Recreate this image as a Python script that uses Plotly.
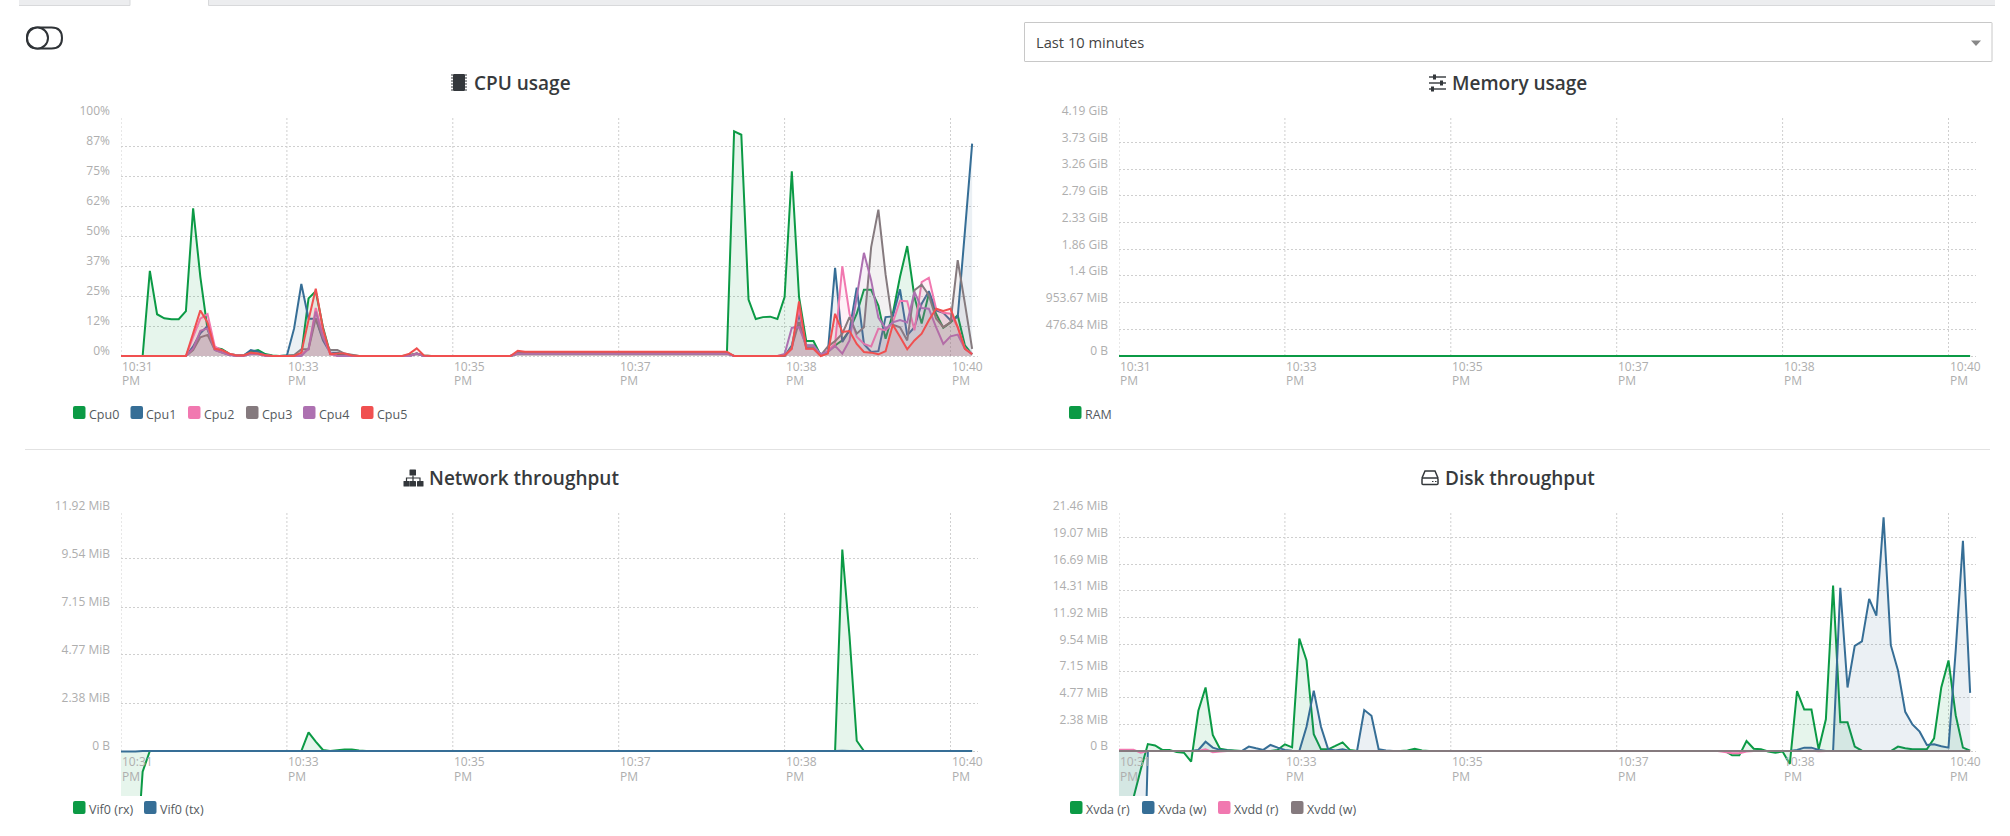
import plotly.graph_objects as go

# Samples are 5 s apart; the window holds 119 of them.
STEP_SECONDS = 5
SAMPLES = 119
seconds = [i * STEP_SECONDS for i in range(SAMPLES)]

tick_seconds = [0, 115, 230, 345, 460, 575]
tick_times = ["10:31", "10:33", "10:35", "10:37", "10:38", "10:40"]


def series(points):
    """Expand {sample index: value} readings into a full series, zero elsewhere."""
    values = [0.0] * SAMPLES
    for key, value in points.items():
        values[key] = value
    return values


cpu0 = series({4: 35.5, 5: 17.4, 6: 15.7, 7: 15.3, 8: 15.3, 9: 18.7, 10: 61.5, 11: 33, 12: 11, 13: 3.5, 14: 2.8, 15: 1, 16: .3, 17: .3,
               18: 1.8, 19: 2.5, 20: .8, 21: .2, 23: .2, 24: .2, 25: .8, 26: 24, 27: 27, 28: 12, 29: 1, 30: .5, 31: .3, 32: .2,
               40: .4, 41: 1, 42: .2, 55: 1, 56: 1, 57: 1, 58: 1, 59: 1, 60: 1, 61: 1, 62: 1, 63: 1, 64: 1, 65: 1, 66: 1, 67: 1, 68: 1,
               69: 1, 70: 1, 71: 1, 72: 1, 73: 1, 74: 1, 75: 1, 76: 1, 77: 1, 78: 1, 79: 1, 80: 1, 81: 1, 82: 1, 83: 1, 84: 1,
               85: 93.6, 86: 92.2, 87: 23.5, 88: 15.4, 89: 16.2, 90: 16.4, 91: 15.4, 92: 24.6, 93: 77, 94: 24.6, 95: 6.2, 96: 6.2,
               97: .3, 98: 1.7, 99: 4.4, 100: 6.5, 101: 10.7, 102: 17.6, 103: 27.6, 104: 27.6, 105: 21, 106: 7.2, 107: 17.6, 108: 33,
               109: 45.8, 110: 24.6, 111: 13.5, 112: 26, 113: 17.6, 114: 11.8, 115: 14, 116: 17, 117: 4.4, 118: .7})
cpu1 = series({10: 4, 11: 9.5, 12: 12.5, 13: 3, 14: 1.8, 15: .5, 16: .2, 17: .2, 18: 2.5, 19: 1.8, 20: .4, 23: .2, 24: 11.5, 25: 30,
               26: 15.5, 27: 15.5, 28: 6.5, 29: 1.4, 30: 1.4, 31: .5, 41: 1, 55: 1.1, 56: 1.1, 57: 1.1, 58: 1.1, 59: 1.1, 60: 1.1,
               61: 1.1, 62: 1.1, 63: 1.1, 64: 1.1, 65: 1.1, 66: 1.1, 67: 1.1, 68: 1.1, 69: 1.1, 70: 1.1, 71: 1.1, 72: 1.1, 73: 1.1,
               74: 1.1, 75: 1.1, 76: 1.1, 77: 1.1, 78: 1.1, 79: 1.1, 80: 1.1, 81: 1.1, 82: 1.1, 83: 1.1, 84: 1.1,
               93: 4.4, 94: 17.6, 95: 4.4, 96: 4.4, 97: .7, 98: 1.7, 99: 36.7, 100: 5.8, 101: 10.7, 102: 28.5, 103: 5, 104: 1.7, 105: 2,
               106: 16.2, 107: 16.5, 108: 27.8, 109: 8.6, 110: 12, 111: 21.8, 112: 27, 113: 19, 114: 18, 115: 14.9, 116: 16.2, 117: 52, 118: 88.5})
cpu2 = series({10: 8, 11: 15.6, 12: 17.5, 13: 4, 14: 2.2, 15: 1, 16: .3, 17: .3, 18: 1, 19: .8, 20: .3, 24: .2, 25: 1, 26: 2.8, 27: 20, 28: 9, 29: .8,
               41: 1, 55: 1.5, 56: 1.5, 57: 1.5, 58: 1.5, 59: 1.5, 60: 1.5, 61: 1.5, 62: 1.5, 63: 1.5, 64: 1.5, 65: 1.5, 66: 1.5, 67: 1.5,
               68: 1.5, 69: 1.5, 70: 1.5, 71: 1.5, 72: 1.5, 73: 1.5, 74: 1.5, 75: 1.5, 76: 1.5, 77: 1.5, 78: 1.5, 79: 1.5, 80: 1.5, 81: 1.5,
               82: 1.5, 83: 1.5, 84: 1.5,
               93: 3, 94: 20, 95: 3, 96: 3, 97: .3, 98: 2.4, 99: 5, 100: 37.4, 101: 17.6, 102: 8, 103: 5, 104: 4, 105: 11.4, 106: 10.7, 107: 14,
               108: 23, 109: 22.8, 110: 10.7, 111: 30.8, 112: 32.6, 113: 19.7, 114: 18, 115: 17.6, 116: 12, 117: 3, 118: 1})
cpu3 = series({10: 2.5, 11: 7.8, 12: 8.8, 13: 2.5, 14: 1.4, 15: .5, 16: .2, 17: .2, 18: 1, 19: 1, 20: .3, 24: .4, 25: 2.8, 26: 2.8, 27: 15.7, 28: 7.4,
               29: 2.5, 30: 2.5, 31: 1, 32: .5, 41: 1, 55: 1.2, 56: 1.2, 57: 1.2, 58: 1.2, 59: 1.2, 60: 1.2, 61: 1.2, 62: 1.2, 63: 1.2, 64: 1.2,
               65: 1.2, 66: 1.2, 67: 1.2, 68: 1.2, 69: 1.2, 70: 1.2, 71: 1.2, 72: 1.2, 73: 1.2, 74: 1.2, 75: 1.2, 76: 1.2, 77: 1.2, 78: 1.2,
               79: 1.2, 80: 1.2, 81: 1.2, 82: 1.2, 83: 1.2, 84: 1.2,
               93: 3.7, 94: 14.2, 95: 3.5, 96: 3.5, 97: .3, 98: 4, 99: 6.2, 100: 9.3, 101: 16.2, 102: 9.3, 103: 12, 104: 45.4, 105: 61, 106: 34,
               107: 13, 108: 12, 109: 6.5, 110: 27.4, 111: 29.7, 112: 25.3, 113: 15.6, 114: 12, 115: 14, 116: 39.9, 117: 21.8, 118: 3})
cpu4 = series({10: 3, 11: 10.5, 12: 11.5, 13: 2.5, 14: 1.4, 15: .4, 18: .8, 19: .8, 26: 3, 27: 18.5, 28: 8, 29: 1.4, 41: 1, 55: .9, 56: .9, 57: .9, 58: .9,
               59: .9, 60: .9, 61: .9, 62: .9, 63: .9, 64: .9, 65: .9, 66: .9, 67: .9, 68: .9, 69: .9, 70: .9, 71: .9, 72: .9, 73: .9, 74: .9,
               75: .9, 76: .9, 77: .9, 78: .9, 79: .9, 80: .9, 81: .9, 82: .9, 83: .9, 84: .9,
               92: .8, 93: 11.8, 94: 12, 95: 4.4, 96: 4.4, 97: .7, 98: 1.7, 99: 4.2, 100: 1, 101: 6.5, 102: 24.6, 103: 43, 104: 31.5, 105: 16, 106: 11.4,
               107: 14, 108: 15, 109: 14, 110: 26.7, 111: 20, 112: 19.7, 113: 12, 114: 5, 115: 8.2, 116: 8.9, 117: 3, 118: .7})
cpu5 = series({10: 9.5, 11: 19, 12: 14, 13: 3, 14: 2.5, 15: 1, 16: .2, 17: .2, 18: 1.4, 19: 1, 20: .3, 25: 1.4, 26: 15, 27: 28, 28: 11.5, 29: .8, 30: 1, 31: 1, 32: .2,
               40: 1, 41: 3.2, 42: .2, 55: 2.2, 56: 1.8, 57: 1.8, 58: 1.8, 59: 1.8, 60: 1.8, 61: 1.8, 62: 1.8, 63: 1.8, 64: 1.8, 65: 1.8, 66: 1.8, 67: 1.8,
               68: 1.8, 69: 1.8, 70: 1.8, 71: 1.8, 72: 1.8, 73: 1.8, 74: 1.8, 75: 1.8, 76: 1.8, 77: 1.8, 78: 1.8, 79: 1.8, 80: 1.8, 81: 1.8, 82: 1.8,
               83: 1.8, 84: 1.8,
               92: .2, 93: 3, 94: 22.8, 95: 3, 96: 3, 98: 1, 99: 17.6, 100: 10, 101: 10.4, 102: 5, 103: 1.7, 104: 1.4, 105: .7, 106: 2, 107: 13, 108: 8,
               109: 2.8, 110: 6.5, 111: 9.3, 112: 14.9, 113: 19.7, 114: 18.8, 115: 19.7, 116: 12, 117: 3, 118: .7})

ram_gib = series({})

vif_rx = series({0: -6.3, 1: -6.3, 2: -6.3, 3: -1.03, 25: 0, 26: .93, 27: .47, 28: .05, 30: .04, 31: .08, 32: .08, 33: .03,
                 100: 10.0, 101: 5.7, 102: .51})
vif_tx = series({0: -.02, 1: -.02, 2: -.02, 100: .01})

xvda_r = series({0: -4.2, 1: -4.2, 2: -4.2, 3: -1.7, 4: .62, 5: .5, 6: .1, 7: .1, 8: -.1, 9: -.15, 10: -.95, 11: 3.6, 12: 5.68, 13: 1.43, 14: .2, 15: .1, 16: .05,
                 22: .1, 23: .6, 24: .33, 25: 10.06, 26: 8.1, 27: 1.5, 28: .15, 29: .15, 30: .45, 31: .77, 32: .1, 40: .05, 41: .2, 42: .05,
                 85: -.39, 86: -.39, 87: .89, 88: .2, 89: .15, 90: -.05, 91: -.15, 92: -.05, 93: -1.16, 94: 5.36, 95: 3.7, 96: 3.7, 97: .15, 98: 2.83, 99: 14.8,
                 100: 2.56, 101: 2.56, 102: .39, 103: .03, 108: .39, 109: .24, 110: .15, 111: .15, 112: .15, 113: 1.13, 114: 5.68, 115: 8.1, 116: 3.2, 117: .3, 118: .03})
xvda_w = series({0: -24.5, 1: -24.5, 2: -24.5, 3: -24.5, 11: .09, 12: .83, 13: .3, 14: .1, 15: .05, 18: .4, 19: .24, 20: .1, 21: .54, 22: .3, 23: .1, 24: .03,
                 26: 2.17, 27: 5.4, 28: 2.17, 29: .15, 30: .05, 31: .15, 34: 3.66, 35: 3.15, 36: .15, 37: .05,
                 94: .09, 95: .3, 96: .3, 97: .09, 100: 14.6, 101: 5.68, 102: 9.4, 103: 9.8, 104: 13.6, 105: 12.1, 106: 20.9, 107: 9.46, 108: 7.2, 109: 3.5,
                 110: 2.38, 111: 1.73, 112: .54, 113: .6, 114: .42, 115: .3, 116: 9.0, 117: 18.8, 118: 5.2})
xvdd_r = series({0: .12, 1: .12, 2: .12, 3: -.15, 12: .15, 13: -.1, 14: -.05, 84: -.1, 85: -.2, 86: -.2, 87: -.05, 96: .03, 97: -.03})
xvdd_w = series({})

GREEN = "#0b9a45"
BLUE = "#366e96"
PINK = "#f178b0"
GRAY = "#857a7e"
PURPLE = "#ad71b1"
RED = "#f05050"

cpu_ticks = [0, 12.5, 25, 37.5, 50, 62.5, 75, 87.5, 100]
cpu_labels = ["0%", "12%", "25%", "37%", "50%", "62%", "75%", "87%", "100%"]
ram_ticks = [0, 0.4657, 0.9313, 1.397, 1.8626, 2.3283, 2.794, 3.2596, 3.7253, 4.19]
ram_labels = ["0 B", "476.84 MiB", "953.67 MiB", "1.4 GiB", "1.86 GiB", "2.33 GiB", "2.79 GiB", "3.26 GiB", "3.73 GiB", "4.19 GiB"]
net_ticks = [0, 2.38, 4.77, 7.15, 9.54, 11.92]
net_labels = ["0 B", "2.38 MiB", "4.77 MiB", "7.15 MiB", "9.54 MiB", "11.92 MiB"]
disk_ticks = [0, 2.38, 4.77, 7.15, 9.54, 11.92, 14.31, 16.69, 19.07, 21.46]
disk_labels = ["0 B"] + [f"{v} MiB" for v in disk_ticks[1:]]

WIDTH, HEIGHT = 2010, 836
FONT = "Open Sans, Noto Sans, sans-serif"
TEXT_DARK = "#373a3c"
AXIS_TEXT = "#aeaeae"
GRID = "#cfcfcf"

panels = [
    dict(title="CPU usage", left=121, top=116, ticks=cpu_ticks, labels=cpu_labels,
         title_x=472.5, title_y=83, legend_x=[73, 130.5, 188, 246, 303, 361], legend_y=406,
         data=[("Cpu0", cpu0, GREEN), ("Cpu1", cpu1, BLUE), ("Cpu2", cpu2, PINK),
               ("Cpu3", cpu3, GRAY), ("Cpu4", cpu4, PURPLE), ("Cpu5", cpu5, RED)]),
    dict(title="Memory usage", left=1119, top=116, ticks=ram_ticks, labels=ram_labels,
         title_x=1451, title_y=83, legend_x=[1069], legend_y=406,
         data=[("RAM", ram_gib, GREEN)]),
    dict(title="Network throughput", left=121, top=511, ticks=net_ticks, labels=net_labels,
         title_x=428, title_y=478, legend_x=[73, 144], legend_y=801,
         data=[("Vif0 (rx)", vif_rx, GREEN), ("Vif0 (tx)", vif_tx, BLUE)]),
    dict(title="Disk throughput", left=1119, top=511, ticks=disk_ticks, labels=disk_labels,
         title_x=1444, title_y=478, legend_x=[1070, 1142, 1218, 1291], legend_y=801,
         data=[("Xvda (r)", xvda_r, GREEN), ("Xvda (w)", xvda_w, BLUE),
               ("Xvdd (r)", xvdd_r, PINK), ("Xvdd (w)", xvdd_w, GRAY)]),
]

PLOT_W = 857
PLOT_H = 240
BELOW = 45
X_MAX = PLOT_W * 115 / 165.9

fig = go.Figure()
shapes = []
annotations = []


def px_x(x):
    return x / WIDTH


def px_y(y):
    return 1 - y / HEIGHT


def paper_path(path, **style):
    """Add an SVG-style path given in page pixels as a paper-anchored shape."""
    out = []
    for token in path.split():
        if "," in token:
            a, b = token.split(",")
            out.append(f"{px_x(float(a)):.6f},{px_y(float(b)):.6f}")
        else:
            out.append(token)
    shapes.append(dict(type="path", xref="paper", yref="paper", path=" ".join(out), **style))


def rounded_box(x0, y0, x1, y1, r, **style):
    paper_path(
        f"M {x0+r},{y0} L {x1-r},{y0} Q {x1},{y0} {x1},{y0+r} L {x1},{y1-r} Q {x1},{y1} {x1-r},{y1} "
        f"L {x0+r},{y1} Q {x0},{y1} {x0},{y1-r} L {x0},{y0+r} Q {x0},{y0} {x0+r},{y0} Z", **style)


def paper_text(x, y, text, size, color, xanchor="left", weight=None):
    font = dict(family=FONT, size=size, color=color)
    if weight:
        font["weight"] = weight
    annotations.append(dict(xref="paper", yref="paper", x=px_x(x), y=px_y(y), text=text, showarrow=False,
                            xanchor=xanchor, yanchor="middle", font=font, align="left", borderpad=0))


for n, panel in enumerate(panels, start=1):
    axis_x = f"xaxis{n}"
    axis_y = f"yaxis{n}"
    ref_x = f"x{n}"
    ref_y = f"y{n}"
    y_top = panel["ticks"][-1]
    y_bottom = -BELOW * y_top / PLOT_H

    for name, values, color in panel["data"]:
        r, g, b = int(color[1:3], 16), int(color[3:5], 16), int(color[5:7], 16)
        fig.add_trace(go.Scatter(x=seconds, y=values, mode="lines", name=name, xaxis=ref_x, yaxis=ref_y,
                                 line=dict(color=color, width=2, simplify=False), fill="tozeroy",
                                 fillcolor=f"rgba({r},{g},{b},0.1)", showlegend=False, hoverinfo="skip"))

    fig.layout[axis_x] = dict(domain=[px_x(panel["left"]), px_x(panel["left"] + PLOT_W)], range=[0, X_MAX],
                              anchor=ref_y, showgrid=False, zeroline=False, showline=False, showticklabels=False,
                              ticks="", fixedrange=True, automargin=False)
    fig.layout[axis_y] = dict(domain=[px_y(panel["top"] + PLOT_H + BELOW), px_y(panel["top"])],
                              range=[y_bottom, y_top], anchor=ref_x, automargin=False,
                              tickmode="array", tickvals=panel["ticks"], ticktext=panel["labels"],
                              showgrid=True, gridcolor=GRID, gridwidth=1, griddash="2px,2px",
                              zeroline=False, showline=False, ticks="", ticklabelstandoff=10, ticklabelshift=-5,
                              tickfont=dict(family=FONT, size=12, color=AXIS_TEXT), fixedrange=True)

    # Vertical guides stop at the zero line; labels hang just below it.
    for tick, label in zip(tick_seconds, tick_times):
        shapes.append(dict(type="line", xref=ref_x, yref=ref_y, x0=tick, x1=tick, y0=0, y1=y_top, layer="below",
                           line=dict(color=GRID, width=1, dash="2px,2px")))
        for part, offset in ((label, -10.5), ("PM", -25)):
            annotations.append(dict(xref=ref_x, yref=ref_y, x=tick, y=0, yanchor="middle", xanchor="left", align="left",
                                    text=part, showarrow=False, yshift=offset, borderpad=0,
                                    font=dict(family=FONT, size=12, color=AXIS_TEXT)))

    paper_text(panel["title_x"], panel["title_y"], panel["title"], 19, TEXT_DARK, weight=600)

    for lx, (name, _, color) in zip(panel["legend_x"], panel["data"]):
        ly = panel["legend_y"]
        rounded_box(lx, ly, lx + 12.5, ly + 13, 2, fillcolor=color, line=dict(width=0))
        paper_text(lx + 14.5, ly + 8, name, 12.5, "#555a5e")

# Page chrome: tab strip, divider, toggle, time-range selector.
paper_path("M 19,0 L 130,0 L 130,5 L 19,5 Z", fillcolor="#ecedef", line=dict(width=0))
paper_path("M 208.5,0 L 1995,0 L 1995,5 L 208.5,5 Z", fillcolor="#ecedef", line=dict(width=0))
paper_path("M 19,5.5 L 130,5.5 M 208.5,5.5 L 1995,5.5 M 130,0 L 130,5.5 M 208.5,0 L 208.5,5.5", line=dict(color="#d8d9db", width=1))
paper_path("M 25,449.5 L 1990,449.5", line=dict(color="#e2e2e2", width=1))

rounded_box(27, 27.5, 62, 48.5, 10.5, fillcolor="rgba(0,0,0,0)", line=dict(color="#2f3337", width=2))
paper_path("M 27,38 C 27,32 32,27.5 37.5,27.5 C 43,27.5 48,32 48,38 C 48,44 43,48.5 37.5,48.5 C 32,48.5 27,44 27,38 Z",
           fillcolor="#ffffff", line=dict(color="#2f3337", width=2))

rounded_box(1024.5, 22.5, 1992, 61.5, 0.5, fillcolor="#ffffff", line=dict(color="#c8c8c8", width=1))
paper_text(1035, 42, "Last 10 minutes", 14.7, "#444444")
paper_path("M 1971,40.5 L 1981,40.5 L 1976,46 Z", fillcolor="#888888", line=dict(width=0))

# Title icons.
ICON = "#33373b"
rounded_box(453, 74, 465, 91, 1, fillcolor=ICON, line=dict(width=0))
for py in range(75, 91, 3):
    paper_path(f"M 451,{py} L 453,{py} M 465,{py} L 467,{py}", line=dict(color=ICON, width=1))

for py, kx in ((77, 1433), (83, 1440), (89, 1431)):
    paper_path(f"M 1429,{py} L 1446,{py}", line=dict(color=ICON, width=1.4))
    paper_path(f"M {kx},{py-2.5} L {kx+3},{py-2.5} L {kx+3},{py+2.5} L {kx},{py+2.5} Z", fillcolor=ICON, line=dict(width=0))

rounded_box(409.5, 469.5, 416, 475.5, 0.6, fillcolor=ICON, line=dict(width=0))
rounded_box(403.5, 481, 409.5, 486.5, 0.6, fillcolor=ICON, line=dict(width=0))
rounded_box(409.5, 481, 416, 486.5, 0.6, fillcolor=ICON, line=dict(width=0))
rounded_box(417, 481, 423.5, 486.5, 0.6, fillcolor=ICON, line=dict(width=0))
paper_path("M 406.5,481 L 406.5,478 L 420,478 L 420,481 M 413,475.5 L 413,481", line=dict(color=ICON, width=1.2))

rounded_box(1422, 478, 1438, 484.5, 1, fillcolor="#ffffff", line=dict(color=ICON, width=1.5))
paper_path("M 1422,478 L 1425,471 L 1435,471 L 1438,478", line=dict(color=ICON, width=1.5))
paper_path("M 1432,481.5 L 1433.5,481.5 M 1435,481.5 L 1436.5,481.5", line=dict(color=ICON, width=1.2))

fig.update_layout(width=WIDTH, height=HEIGHT, autosize=False, margin=dict(l=0, r=0, t=0, b=0),
                  paper_bgcolor="#ffffff", plot_bgcolor="#ffffff", showlegend=False,
                  shapes=shapes, annotations=annotations)
fig.write_html("out.html", config=dict(displayModeBar=False, responsive=False))
